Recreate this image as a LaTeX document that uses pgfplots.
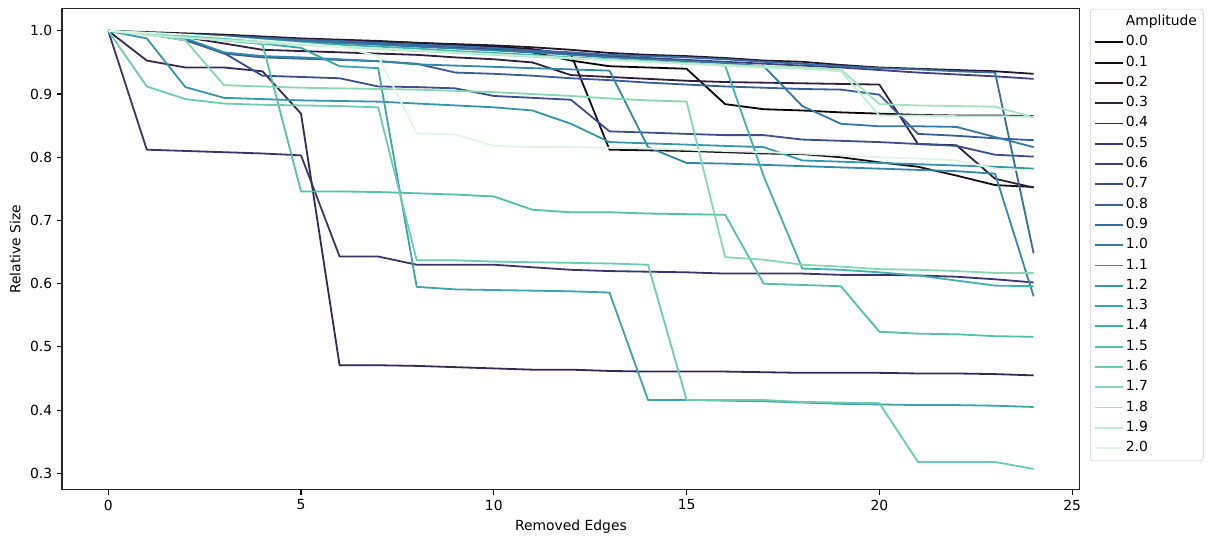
\documentclass[border=0pt]{standalone}
\usepackage{fontspec}
\setmainfont{DejaVu Sans}
\usepackage{pgfplots}
\pgfplotsset{compat=1.18}
\definecolor{c00}{RGB}{11,4,5}
\definecolor{c01}{RGB}{23,13,24}
\definecolor{c02}{RGB}{36,22,43}
\definecolor{c03}{RGB}{47,32,62}
\definecolor{c04}{RGB}{54,42,85}
\definecolor{c05}{RGB}{60,53,107}
\definecolor{c06}{RGB}{64,65,127}
\definecolor{c07}{RGB}{61,79,139}
\definecolor{c08}{RGB}{57,93,151}
\definecolor{c09}{RGB}{55,107,159}
\definecolor{c10}{RGB}{54,122,163}
\definecolor{c11}{RGB}{52,137,166}
\definecolor{c12}{RGB}{54,151,168}
\definecolor{c13}{RGB}{59,165,170}
\definecolor{c14}{RGB}{63,179,172}
\definecolor{c15}{RGB}{83,192,174}
\definecolor{c16}{RGB}{109,204,176}
\definecolor{c17}{RGB}{135,216,178}
\definecolor{c18}{RGB}{164,226,193}
\definecolor{c19}{RGB}{193,236,211}
\definecolor{c20}{RGB}{222,245,229}
\begin{document}
\begin{tikzpicture}
\useasboundingbox (0,0) rectangle (873pt,385.7pt);
\begin{axis}[
  at={(44.6pt,33.1pt)}, anchor=south west,
  scale only axis, width=732.6pt, height=346.2pt,
  xmin=-1.2, xmax=25.2, ymin=0.2738, ymax=1.0347,
  xtick={0,5,10,15,20,25},
  ytick={0.3,0.4,0.5,0.6,0.7,0.8,0.9,1.0},
  /pgf/number format/assume math mode=true,
  yticklabel style={/pgf/number format/fixed, /pgf/number format/fixed zerofill, /pgf/number format/precision=1},
  scaled y ticks=false,
  tick pos=left, tick align=outside, major tick length=3.5pt,
  tick style={black, line width=0.8pt},
  axis line style={line width=0.8pt, black!85},
  ticklabel style={font=\fontsize{10}{12}\selectfont},
  label style={font=\fontsize{10}{12}\selectfont},
  xlabel={Removed Edges}, ylabel={Relative Size},
  every axis plot/.append style={line width=1.3pt, line join=round},
  legend style={at={(1.01,1)}, anchor=north west, draw=black!20, rounded corners=2pt,
    font=\fontsize{10}{12}\selectfont, row sep=2.1pt, inner sep=3pt,
    nodes={inner sep=1.5pt, text height=7.3pt, text depth=2.2pt}},
  legend cell align=left,
  legend image code/.code={\draw[#1] (0pt,0pt) -- (19.7pt,0pt);},
]
\addlegendimage{empty legend}
\addlegendentry{Amplitude}
\addplot[c00] coordinates {(0,1.000)(1,0.996)(2,0.993)(3,0.990)(4,0.987)(5,0.984)(6,0.981)(7,0.979)(8,0.976)(9,0.973)(10,0.970)(11,0.966)(12,0.953)(13,0.944)(14,0.942)(15,0.940)(16,0.884)(17,0.876)(18,0.874)(19,0.871)(20,0.869)(21,0.867)(22,0.866)(23,0.866)(24,0.865)};
\addlegendentry{0.0}
\addplot[c01] coordinates {(0,1.000)(1,0.997)(2,0.994)(3,0.992)(4,0.990)(5,0.987)(6,0.985)(7,0.983)(8,0.981)(9,0.978)(10,0.975)(11,0.971)(12,0.963)(13,0.812)(14,0.811)(15,0.810)(16,0.808)(17,0.806)(18,0.805)(19,0.800)(20,0.792)(21,0.785)(22,0.771)(23,0.756)(24,0.753)};
\addlegendentry{0.1}
\addplot[c02] coordinates {(0,1.000)(1,0.998)(2,0.996)(3,0.994)(4,0.991)(5,0.988)(6,0.986)(7,0.984)(8,0.981)(9,0.979)(10,0.977)(11,0.974)(12,0.970)(13,0.965)(14,0.962)(15,0.960)(16,0.957)(17,0.953)(18,0.951)(19,0.946)(20,0.942)(21,0.940)(22,0.938)(23,0.936)(24,0.932)};
\addlegendentry{0.2}
\addplot[c03] coordinates {(0,1.000)(1,0.995)(2,0.990)(3,0.980)(4,0.970)(5,0.968)(6,0.966)(7,0.964)(8,0.962)(9,0.958)(10,0.955)(11,0.950)(12,0.930)(13,0.927)(14,0.924)(15,0.921)(16,0.919)(17,0.918)(18,0.917)(19,0.916)(20,0.915)(21,0.821)(22,0.819)(23,0.766)(24,0.752)};
\addlegendentry{0.3}
\addplot[c04] coordinates {(0,1.000)(1,0.953)(2,0.942)(3,0.942)(4,0.936)(5,0.869)(6,0.471)(7,0.471)(8,0.470)(9,0.468)(10,0.466)(11,0.464)(12,0.464)(13,0.462)(14,0.461)(15,0.461)(16,0.461)(17,0.460)(18,0.459)(19,0.459)(20,0.459)(21,0.458)(22,0.458)(23,0.457)(24,0.455)};
\addlegendentry{0.4}
\addplot[c05] coordinates {(0,1.000)(1,0.812)(2,0.810)(3,0.808)(4,0.806)(5,0.803)(6,0.643)(7,0.643)(8,0.630)(9,0.630)(10,0.630)(11,0.626)(12,0.622)(13,0.620)(14,0.619)(15,0.618)(16,0.616)(17,0.616)(18,0.616)(19,0.614)(20,0.614)(21,0.613)(22,0.611)(23,0.607)(24,0.602)};
\addlegendentry{0.5}
\addplot[c06] coordinates {(0,1.000)(1,0.996)(2,0.993)(3,0.990)(4,0.987)(5,0.984)(6,0.981)(7,0.979)(8,0.976)(9,0.973)(10,0.971)(11,0.968)(12,0.964)(13,0.960)(14,0.957)(15,0.954)(16,0.951)(17,0.948)(18,0.945)(19,0.942)(20,0.938)(21,0.934)(22,0.931)(23,0.928)(24,0.924)};
\addlegendentry{0.6}
\addplot[c07] coordinates {(0,1.000)(1,0.995)(2,0.985)(3,0.965)(4,0.929)(5,0.927)(6,0.925)(7,0.912)(8,0.911)(9,0.909)(10,0.897)(11,0.894)(12,0.891)(13,0.841)(14,0.839)(15,0.837)(16,0.835)(17,0.835)(18,0.828)(19,0.826)(20,0.824)(21,0.821)(22,0.818)(23,0.804)(24,0.801)};
\addlegendentry{0.7}
\addplot[c08] coordinates {(0,1.000)(1,0.995)(2,0.986)(3,0.964)(4,0.958)(5,0.956)(6,0.954)(7,0.952)(8,0.948)(9,0.934)(10,0.932)(11,0.929)(12,0.925)(13,0.922)(14,0.918)(15,0.915)(16,0.912)(17,0.910)(18,0.908)(19,0.907)(20,0.899)(21,0.837)(22,0.834)(23,0.830)(24,0.827)};
\addlegendentry{0.8}
\addplot[c09] coordinates {(0,1.000)(1,0.997)(2,0.994)(3,0.992)(4,0.989)(5,0.986)(6,0.984)(7,0.981)(8,0.978)(9,0.976)(10,0.973)(11,0.969)(12,0.966)(13,0.962)(14,0.960)(15,0.958)(16,0.955)(17,0.951)(18,0.948)(19,0.944)(20,0.941)(21,0.939)(22,0.936)(23,0.934)(24,0.648)};
\addlegendentry{0.9}
\addplot[c10] coordinates {(0,1.000)(1,0.996)(2,0.993)(3,0.990)(4,0.987)(5,0.984)(6,0.981)(7,0.978)(8,0.975)(9,0.972)(10,0.969)(11,0.966)(12,0.962)(13,0.958)(14,0.955)(15,0.952)(16,0.949)(17,0.944)(18,0.881)(19,0.853)(20,0.849)(21,0.849)(22,0.848)(23,0.832)(24,0.816)};
\addlegendentry{1.0}
\addplot[c11] coordinates {(0,1.000)(1,0.996)(2,0.988)(3,0.966)(4,0.960)(5,0.958)(6,0.955)(7,0.952)(8,0.947)(9,0.945)(10,0.943)(11,0.941)(12,0.939)(13,0.937)(14,0.816)(15,0.791)(16,0.790)(17,0.788)(18,0.786)(19,0.784)(20,0.782)(21,0.780)(22,0.778)(23,0.774)(24,0.580)};
\addlegendentry{1.1}
\addplot[c12] coordinates {(0,1.000)(1,0.988)(2,0.911)(3,0.894)(4,0.892)(5,0.890)(6,0.889)(7,0.888)(8,0.885)(9,0.882)(10,0.879)(11,0.874)(12,0.853)(13,0.824)(14,0.822)(15,0.820)(16,0.818)(17,0.816)(18,0.795)(19,0.793)(20,0.791)(21,0.789)(22,0.787)(23,0.785)(24,0.782)};
\addlegendentry{1.2}
\addplot[c13] coordinates {(0,1.000)(1,0.995)(2,0.990)(3,0.985)(4,0.980)(5,0.973)(6,0.944)(7,0.941)(8,0.595)(9,0.591)(10,0.590)(11,0.589)(12,0.588)(13,0.586)(14,0.416)(15,0.416)(16,0.415)(17,0.414)(18,0.412)(19,0.410)(20,0.409)(21,0.408)(22,0.408)(23,0.407)(24,0.405)};
\addlegendentry{1.3}
\addplot[c14] coordinates {(0,1.000)(1,0.995)(2,0.992)(3,0.988)(4,0.985)(5,0.981)(6,0.978)(7,0.975)(8,0.972)(9,0.968)(10,0.965)(11,0.962)(12,0.958)(13,0.955)(14,0.952)(15,0.949)(16,0.945)(17,0.770)(18,0.624)(19,0.622)(20,0.618)(21,0.613)(22,0.605)(23,0.597)(24,0.596)};
\addlegendentry{1.4}
\addplot[c15] coordinates {(0,1.000)(1,0.995)(2,0.990)(3,0.985)(4,0.979)(5,0.746)(6,0.746)(7,0.745)(8,0.743)(9,0.741)(10,0.738)(11,0.717)(12,0.713)(13,0.713)(14,0.711)(15,0.710)(16,0.709)(17,0.600)(18,0.598)(19,0.596)(20,0.524)(21,0.521)(22,0.520)(23,0.517)(24,0.516)};
\addlegendentry{1.5}
\addplot[c16] coordinates {(0,1.000)(1,0.912)(2,0.892)(3,0.885)(4,0.883)(5,0.882)(6,0.881)(7,0.879)(8,0.637)(9,0.637)(10,0.635)(11,0.634)(12,0.633)(13,0.632)(14,0.630)(15,0.416)(16,0.416)(17,0.416)(18,0.413)(19,0.412)(20,0.411)(21,0.318)(22,0.318)(23,0.318)(24,0.307)};
\addlegendentry{1.6}
\addplot[c17] coordinates {(0,1.000)(1,0.995)(2,0.985)(3,0.914)(4,0.912)(5,0.910)(6,0.909)(7,0.908)(8,0.907)(9,0.905)(10,0.903)(11,0.900)(12,0.897)(13,0.893)(14,0.890)(15,0.888)(16,0.642)(17,0.638)(18,0.630)(19,0.627)(20,0.623)(21,0.622)(22,0.620)(23,0.617)(24,0.617)};
\addlegendentry{1.7}
\addplot[c18] coordinates {(0,1.000)(1,0.994)(2,0.990)(3,0.986)(4,0.982)(5,0.978)(6,0.975)(7,0.971)(8,0.968)(9,0.965)(10,0.962)(11,0.959)(12,0.956)(13,0.954)(14,0.951)(15,0.948)(16,0.946)(17,0.944)(18,0.942)(19,0.939)(20,0.884)(21,0.882)(22,0.881)(23,0.880)(24,0.863)};
\addlegendentry{1.8}
\addplot[c19] coordinates {(0,1.000)(1,0.993)(2,0.989)(3,0.985)(4,0.981)(5,0.978)(6,0.975)(7,0.972)(8,0.969)(9,0.966)(10,0.963)(11,0.960)(12,0.957)(13,0.954)(14,0.951)(15,0.948)(16,0.945)(17,0.942)(18,0.940)(19,0.936)(20,0.866)(21,0.866)(22,0.865)(23,0.865)(24,0.864)};
\addlegendentry{1.9}
\addplot[c20] coordinates {(0,1.000)(1,0.997)(2,0.994)(3,0.990)(4,0.985)(5,0.980)(6,0.975)(7,0.960)(8,0.838)(9,0.836)(10,0.818)(11,0.816)(12,0.816)(13,0.815)(14,0.814)(15,0.812)(16,0.810)(17,0.808)(18,0.806)(19,0.803)(20,0.800)(21,0.798)(22,0.795)(23,0.782)(24,0.779)};
\addlegendentry{2.0}
\end{axis}
\end{tikzpicture}
\end{document}
